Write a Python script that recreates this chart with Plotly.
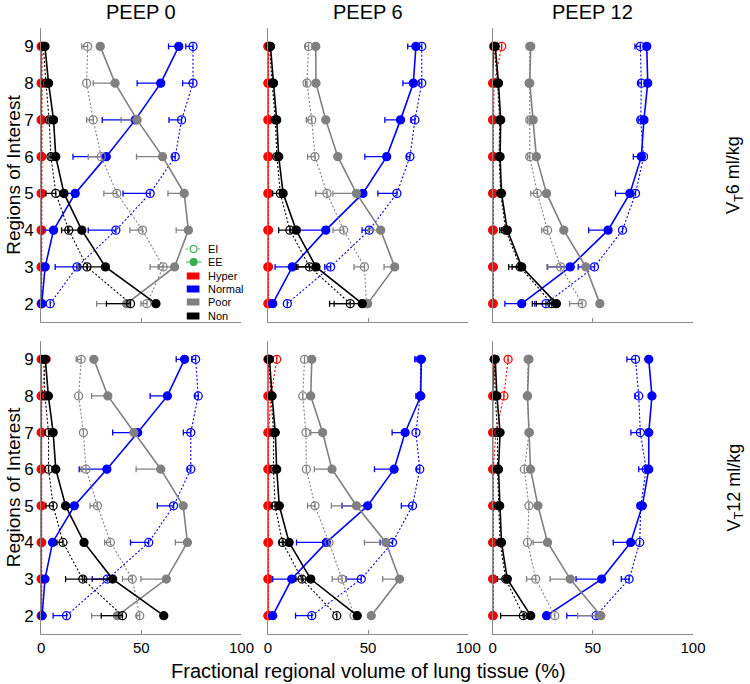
import plotly.graph_objects as go

# ---------------- data (regions 2..9) ----------------
regions = [2, 3, 4, 5, 6, 7, 8, 9]
col_titles = ["PEEP 0", "PEEP 6", "PEEP 12"]
row_titles = ["V<sub>T</sub>6 ml/kg", "V<sub>T</sub>12 ml/kg"]
x_ticks = [0, 50, 100]
classes = ["Hyper", "Normal", "Poor", "Non"]
legend_labels = ["EI", "EE", "Hyper", "Normal", "Poor", "Non"]

# Panel A: VT 6 ml/kg, PEEP 0
a_hyper_ee = [0, 0, 0, 0, 0, 0, 0, 0]
a_hyper_ei = [0.3, 0.3, 0.3, 0.3, 0.3, 0.3, 0.3, 0.5]
a_normal_ee = [0.3, 2, 6.2, 17, 32.5, 47, 59.7, 68.7]
a_normal_ei = [4.5, 17.9, 37.3, 54.4, 66.9, 70.1, 75.8, 75.8]
a_poor_ee = [42.7, 66.6, 73.5, 71.4, 60.6, 47.9, 36.9, 29.5]
a_poor_ei = [52.8, 60.9, 50.6, 37.8, 30, 26, 22.7, 23.2]
a_non_ee = [57.3, 32.1, 20.3, 11.4, 7.3, 6.2, 3.7, 1.9]
a_non_ei = [44.6, 22.9, 13.8, 7.3, 4.9, 4, 2.4, 1.1]
a_normal_ee_err = [0, 1, 5, 6, 16.6, 16.5, 11.8, 5.1]
a_normal_ei_err = [0, 10.9, 13.8, 13.5, 1.5, 6.3, 5.2, 3.6]
a_poor_ee_err = [15, 8.2, 6.1, 8.1, 13, 8, 10.9, 0]
a_poor_ei_err = [3, 6.5, 6.3, 6.5, 6.5, 3.3, 0, 2.9]
a_non_ee_err = [0, 9, 7, 2, 1, 0, 0, 0]
a_non_ei_err = [12, 4, 3.6, 4.9, 1, 1, 0, 0]

# Panel B: VT 6 ml/kg, PEEP 6
b_hyper_ee = [0, 0, 0, 0, 0, 0, 0, 0]
b_hyper_ei = [0.3, 0.3, 0.3, 0.3, 0.3, 0.3, 0.3, 0.3]
b_normal_ee = [2.4, 12.2, 28.9, 47.4, 59.3, 66.2, 72.6, 73.9]
b_normal_ei = [9.7, 31.3, 50.6, 64.4, 70.9, 73.4, 76.8, 76.8]
b_poor_ee = [49.8, 63.3, 56.3, 44.2, 34.9, 28.9, 24, 23.9]
b_poor_ei = [49.2, 48.2, 37.8, 29.5, 23.5, 21.9, 19.5, 20.3]
b_non_ee = [47.1, 24, 14.1, 7.6, 5.4, 4.4, 2.8, 1.3]
b_non_ei = [41.1, 20.8, 11, 6.2, 4.5, 3.7, 2.1, 0.8]
b_normal_ee_err = [0, 8.6, 13, 0, 10.9, 7.8, 5.2, 4.1]
b_normal_ei_err = [0, 2.9, 3.6, 9.5, 1.6, 2, 1.3, 1.3]
b_poor_ee_err = [0, 5.3, 6, 11.7, 0, 0, 0, 0]
b_poor_ei_err = [0, 5.2, 5.3, 5.6, 3.7, 2.7, 0.8, 1.6]
b_non_ee_err = [14, 9, 3, 1.4, 0, 0, 0, 0]
b_non_ei_err = [10.3, 6.5, 5.6, 3.8, 0, 0, 0, 0]

# Panel C: VT 6 ml/kg, PEEP 12
c_hyper_ee = [0, 0, 0, 0, 0, 0, 0, 0.5]
c_hyper_ei = [0.3, 0.3, 0.3, 0.3, 0.3, 0.3, 0.8, 4.5]
c_normal_ee = [14.5, 38.7, 57.6, 68.5, 74.2, 75.5, 77.4, 76.9]
c_normal_ei = [26.6, 50.8, 64.8, 71.3, 75.3, 73.9, 74.2, 73.7]
c_poor_ee = [53.5, 46.5, 35.5, 26.9, 21.8, 20.2, 18.5, 19]
c_poor_ei = [44.7, 33.9, 27.4, 22.3, 18.5, 18.5, 18.2, 18.5]
c_non_ee = [31.8, 14.5, 7.3, 4.4, 3.7, 4, 2.9, 1.3]
c_non_ei = [29.5, 13.7, 6.5, 4, 3.2, 3.5, 2.4, 0.8]
c_normal_ee_err = [8.4, 11.3, 9.7, 7.2, 4, 0, 0, 0]
c_normal_ei_err = [5.6, 8.1, 0, 2.3, 1, 1.3, 1.3, 2.7]
c_poor_ee_err = [0, 0, 0, 0, 0, 0, 0, 0]
c_poor_ei_err = [6.3, 6.8, 2.9, 3.3, 1, 1, 0, 0]
c_non_ee_err = [10, 6.5, 3, 0, 0, 0, 0, 0]
c_non_ei_err = [9.7, 4, 3, 0, 0, 0, 0, 0]

# Panel D: VT 12 ml/kg, PEEP 0
d_hyper_ee = [0, 0, 0, 0, 0, 0, 0, 0]
d_hyper_ei = [0.3, 0.3, 0.3, 0.3, 0.3, 0.3, 0.3, 2.5]
d_normal_ee = [0.5, 1.9, 5.7, 16.6, 32.8, 48.2, 63, 71.6]
d_normal_ei = [12.7, 33, 53.7, 66.1, 74.7, 74.7, 78.4, 77.1]
d_poor_ee = [38.1, 62.5, 73, 70.9, 59.7, 46.3, 33.3, 26.3]
d_poor_ei = [49.2, 45.5, 34.6, 28.1, 22.4, 21.1, 18.7, 20]
d_non_ee = [61.2, 35.7, 21.4, 12.2, 7.3, 6, 3.6, 2.1]
d_non_ei = [40.6, 20.8, 10.9, 6, 3.7, 3.7, 1.9, 1.3]
d_normal_ee_err = [0, 0, 0, 0, 13.8, 12.5, 8.6, 4.2]
d_normal_ei_err = [6.7, 7.5, 9.1, 8.1, 1.7, 3.7, 1.6, 1.9]
d_poor_ee_err = [12.9, 12.7, 6, 0, 12.3, 0, 8.1, 0]
d_poor_ei_err = [1.5, 4.9, 2.9, 3.7, 2.4, 0, 0, 2.5]
d_non_ee_err = [0, 14, 0, 0, 0, 0, 0, 0]
d_non_ei_err = [10.6, 8.6, 3, 3.6, 0, 0, 0, 0]

# Panel E: VT 12 ml/kg, PEEP 6
e_hyper_ee = [0, 0, 0, 0, 0, 0, 0, 0]
e_hyper_ei = [0.3, 0.3, 0.3, 0.3, 0.3, 0.3, 1.6, 4.4]
e_normal_ee = [2.4, 11.9, 29.2, 49.8, 63, 68.5, 76.3, 76.6]
e_normal_ei = [21.9, 46.6, 62.2, 72.2, 75.8, 73.9, 76, 76.3]
e_poor_ee = [51.6, 65.7, 58.9, 44.2, 32, 27.3, 21.4, 21.9]
e_poor_ei = [43, 37, 30.5, 23.5, 19.2, 19, 17.4, 18.3]
e_non_ee = [44.6, 21.4, 10.6, 5.7, 4.4, 3.7, 2.1, 0.8]
e_non_ei = [34.4, 17, 7.3, 3.6, 2.8, 2.8, 1.6, 0.3]
e_normal_ee_err = [0, 9.5, 14.9, 12.8, 9.8, 6.5, 2.4, 2.7]
e_normal_ei_err = [8.1, 7.6, 6.2, 5.6, 1.5, 0, 0, 3]
e_poor_ee_err = [0, 8.4, 10.7, 12.5, 8.8, 5.9, 0, 0]
e_poor_ei_err = [0, 4.9, 0, 3.7, 0, 0, 0, 0]
e_non_ee_err = [0, 4, 3, 0, 0, 0, 0, 0]
e_non_ei_err = [0, 3, 1.5, 1.5, 0, 0, 0, 0]

# Panel F: VT 12 ml/kg, PEEP 12
f_hyper_ee = [0, 0, 0, 0, 0, 0, 0, 0.8]
f_hyper_ei = [0.3, 0.3, 0.3, 0.3, 0.3, 1.6, 5.6, 7.7]
f_normal_ee = [26.9, 54.4, 68.9, 74.7, 77.9, 77.9, 79.5, 77.9]
f_normal_ei = [51.6, 68.1, 73.4, 73.9, 76.6, 73.7, 72.9, 71.3]
f_poor_ee = [54, 38.7, 27.4, 22.6, 18.9, 18.2, 17.4, 18.1]
f_poor_ei = [31, 21.5, 17.4, 18.1, 15.8, 18.2, 17.3, 17.7]
f_non_ee = [19, 7.3, 4.4, 3.5, 2.9, 3.7, 2.1, 1.3]
f_non_ei = [15.3, 6.5, 3.7, 2.9, 2.4, 2.4, 1.3, 0.8]
f_normal_ee_err = [0, 12.8, 8.7, 2.4, 2.1, 0, 0, 0]
f_normal_ei_err = [14.6, 3.9, 0, 1.6, 3.7, 4.7, 1.9, 4.3]
f_poor_ee_err = [11.6, 10, 7.2, 0, 0, 0, 0, 0]
f_poor_ei_err = [0, 4.6, 0, 0, 0, 0, 0, 0]
f_non_ee_err = [3, 4.9, 0, 0, 0, 0, 0, 0]
f_non_ei_err = [11.3, 0, 0, 0, 0, 0, 0, 0]

no_err = [0, 0, 0, 0, 0, 0, 0, 0]

panels = [
    {"Hyper": (a_hyper_ee, a_hyper_ei, no_err, no_err),
     "Normal": (a_normal_ee, a_normal_ei, a_normal_ee_err, a_normal_ei_err),
     "Poor": (a_poor_ee, a_poor_ei, a_poor_ee_err, a_poor_ei_err),
     "Non": (a_non_ee, a_non_ei, a_non_ee_err, a_non_ei_err)},
    {"Hyper": (b_hyper_ee, b_hyper_ei, no_err, no_err),
     "Normal": (b_normal_ee, b_normal_ei, b_normal_ee_err, b_normal_ei_err),
     "Poor": (b_poor_ee, b_poor_ei, b_poor_ee_err, b_poor_ei_err),
     "Non": (b_non_ee, b_non_ei, b_non_ee_err, b_non_ei_err)},
    {"Hyper": (c_hyper_ee, c_hyper_ei, no_err, no_err),
     "Normal": (c_normal_ee, c_normal_ei, c_normal_ee_err, c_normal_ei_err),
     "Poor": (c_poor_ee, c_poor_ei, c_poor_ee_err, c_poor_ei_err),
     "Non": (c_non_ee, c_non_ei, c_non_ee_err, c_non_ei_err)},
    {"Hyper": (d_hyper_ee, d_hyper_ei, no_err, no_err),
     "Normal": (d_normal_ee, d_normal_ei, d_normal_ee_err, d_normal_ei_err),
     "Poor": (d_poor_ee, d_poor_ei, d_poor_ee_err, d_poor_ei_err),
     "Non": (d_non_ee, d_non_ei, d_non_ee_err, d_non_ei_err)},
    {"Hyper": (e_hyper_ee, e_hyper_ei, no_err, no_err),
     "Normal": (e_normal_ee, e_normal_ei, e_normal_ee_err, e_normal_ei_err),
     "Poor": (e_poor_ee, e_poor_ei, e_poor_ee_err, e_poor_ei_err),
     "Non": (e_non_ee, e_non_ei, e_non_ee_err, e_non_ei_err)},
    {"Hyper": (f_hyper_ee, f_hyper_ei, no_err, no_err),
     "Normal": (f_normal_ee, f_normal_ei, f_normal_ee_err, f_normal_ei_err),
     "Poor": (f_poor_ee, f_poor_ei, f_poor_ee_err, f_poor_ei_err),
     "Non": (f_non_ee, f_non_ei, f_non_ee_err, f_non_ei_err)},
]

# ---------------- styling ----------------
colors = {"Hyper": "#ff0000", "Normal": "#0000ff", "Poor": "#808080", "Non": "#000000"}
legend_green = "#2fb34b"
FONT = "Liberation Sans, Arial, sans-serif"
AXIS_COLOR = "#8a8a8a"
W, H = 750, 684
xdom_px = [(38, 243), (270, 475), (500, 705)]
ydom_px = [(28, 322), (341, 634)]


def fx(p):
    return p / W


def fy(p):
    return 1 - p / H


def err_lists(err):
    minus = [e if e else None for e in err]
    plus = [0 if e else None for e in err]
    return plus, minus


fig = go.Figure()

for k, pdata in enumerate(panels):
    r, c = divmod(k, 3)
    ax = "" if k == 0 else str(k + 1)
    for cls in classes:
        ee, ei, ee_err, ei_err = pdata[cls]
        col = colors[cls]
        for kind, vals, err in (("EI", ei, ei_err), ("EE", ee, ee_err)):
            plus, minus = err_lists(err)
            is_ei = kind == "EI"
            fig.add_trace(go.Scatter(
                x=vals, y=regions, xaxis="x" + ax, yaxis="y" + ax,
                mode="lines+markers",
                line=dict(color=col, width=1.1 if is_ei else 1.6,
                          dash="2px,2px" if is_ei else "solid"),
                marker=dict(symbol="circle-open" if is_ei else "circle",
                            size=8, color=col,
                            line=dict(color=col, width=1.3)),
                error_x=dict(type="data", symmetric=False, array=plus,
                             arrayminus=minus, color=col, thickness=1.3, width=3),
                cliponaxis=False, showlegend=False, hoverinfo="skip"))

    a, b = xdom_px[c]
    t, u = ydom_px[r]
    fig.update_layout(**{
        "xaxis" + ax: dict(domain=[fx(a), fx(b)], range=[0, 100], anchor="y" + ax,
                           showline=True, linecolor=AXIS_COLOR, linewidth=1,
                           ticks="inside", ticklen=4, tickcolor=AXIS_COLOR,
                           tickvals=x_ticks, ticktext=[str(v) for v in x_ticks],
                           showticklabels=(r == 1), showgrid=False, zeroline=False,
                           tickfont=dict(size=15, color="black", family=FONT)),
        "yaxis" + ax: dict(domain=[fy(u), fy(t)], range=[1.5, 9.5], anchor="x" + ax,
                           showline=True, linecolor=AXIS_COLOR, linewidth=1,
                           ticks="", tickvals=regions, ticklabelstandoff=3,
                           ticktext=[str(v) for v in regions],
                           showticklabels=(c == 0), showgrid=False, zeroline=False,
                           tickfont=dict(size=17, color="black", family=FONT)),
    })

# ---------------- custom legend (inside first panel) ----------------
shapes = []
annotations = []
leg_rows_y = [249, 262, 276, 289, 302, 316]
sx0, sx1, scx, tx = 186, 202, 194, 207
for i, label in enumerate(legend_labels):
    yy = leg_rows_y[i]
    if label in ("EI", "EE"):
        shapes.append(dict(type="line", xref="paper", yref="paper",
                           x0=fx(sx0), x1=fx(sx1), y0=fy(yy), y1=fy(yy),
                           line=dict(color=legend_green, width=1,
                                     dash="2px,2px" if label == "EI" else "solid")))
        shapes.append(dict(type="circle", xref="paper", yref="paper",
                           x0=fx(scx - 3.5), x1=fx(scx + 3.5), y0=fy(yy + 3.5), y1=fy(yy - 3.5),
                           line=dict(color=legend_green, width=1.2),
                           fillcolor="white" if label == "EI" else legend_green))
    else:
        shapes.append(dict(type="rect", xref="paper", yref="paper",
                           x0=fx(187), x1=fx(200), y0=fy(yy + 3.5), y1=fy(yy - 3.5),
                           line=dict(width=0), fillcolor=colors[label]))
    annotations.append(dict(text=label, x=fx(tx), y=fy(yy), xref="paper", yref="paper",
                            xanchor="left", yanchor="middle", showarrow=False,
                            font=dict(size=11, family=FONT, color="black")))

for c, t in enumerate(col_titles):
    a, b = xdom_px[c]
    annotations.append(dict(text=t, x=fx((a + b) / 2), y=fy(12), xref="paper", yref="paper",
                            xanchor="center", yanchor="middle", showarrow=False,
                            font=dict(size=20, family=FONT, color="black")))
for r, t in enumerate(row_titles):
    a, b = ydom_px[r]
    annotations.append(dict(text=t, x=fx(748), y=fy((a + b) / 2), xref="paper", yref="paper",
                            xanchor="center", yanchor="middle", textangle=-90, showarrow=False,
                            font=dict(size=18, family=FONT, color="black")))
    annotations.append(dict(text="Regions of Interest", x=fx(10), y=fy((a + b) / 2),
                            xref="paper", yref="paper", xanchor="center", yanchor="middle",
                            textangle=-90, showarrow=False,
                            font=dict(size=19, family=FONT, color="black")))
annotations.append(dict(text="Fractional regional volume of lung tissue (%)", x=fx(373),
                        y=fy(671), xref="paper", yref="paper", xanchor="center",
                        yanchor="middle", showarrow=False,
                        font=dict(size=20, family=FONT, color="black")))

fig.update_layout(
    width=W, height=H, margin=dict(l=0, r=0, t=0, b=0),
    paper_bgcolor="white", plot_bgcolor="white",
    font=dict(family=FONT, color="black"),
    annotations=annotations, shapes=shapes,
    showlegend=False,
)

fig.write_html("out.html", config={"displayModeBar": False},
               post_script="document.body.style.margin='0';")
